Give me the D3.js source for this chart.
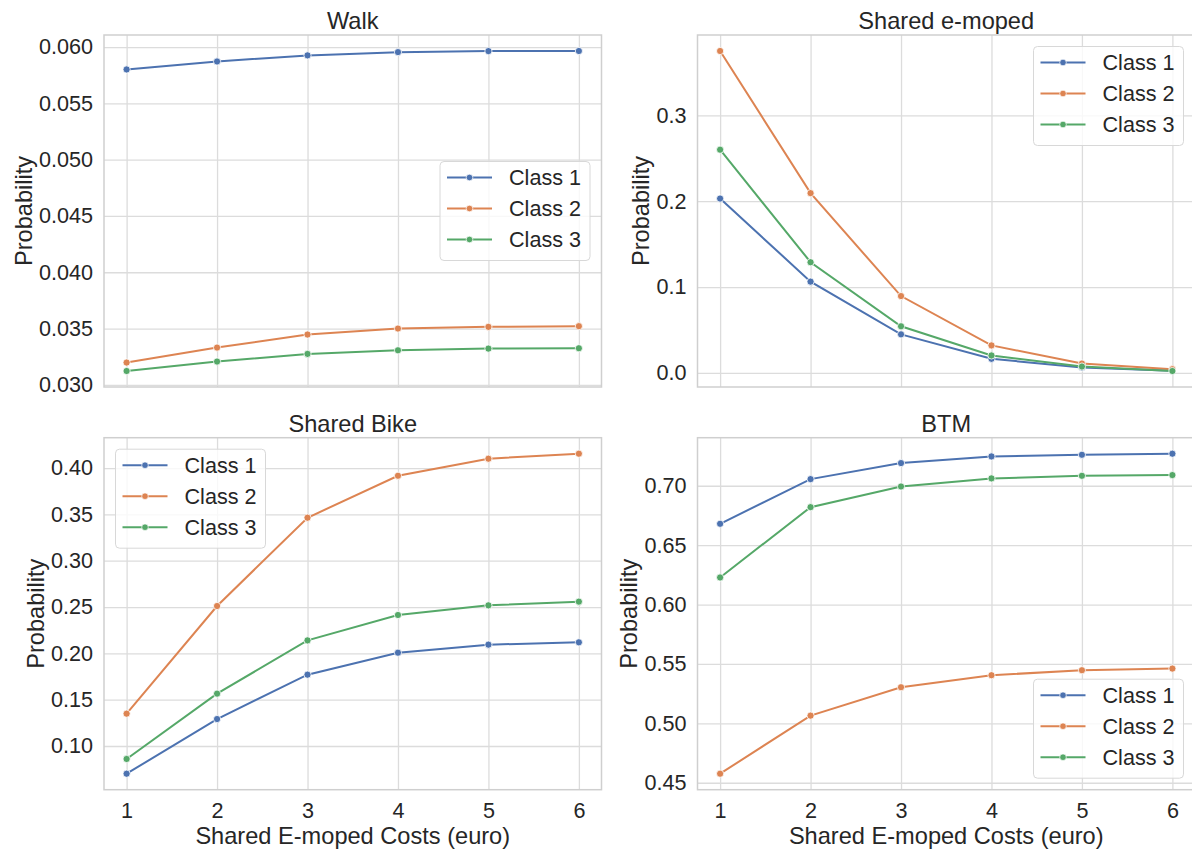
<!DOCTYPE html>
<html>
<head>
<meta charset="utf-8">
<script src="https://cdn.jsdelivr.net/npm/d3@7"></script>
<style>
  html, body { margin: 0; padding: 0; background: #ffffff; }
  svg { display: block; }
  text { font-family: "Liberation Sans", Arial, sans-serif; fill: #262626; }
</style>
</head>
<body>
<svg id="chart" width="1192" height="850"></svg>
<script>
// ---------- data ----------
const costs = [1, 2, 3, 4, 5, 6];
const classNames = ["Class 1", "Class 2", "Class 3"];
const classColors = ["#4c72b0", "#dd8452", "#55a868"];
const xTicks = [1, 2, 3, 4, 5, 6];

const walkClass1 = [0.05801, 0.05872, 0.05926, 0.05955, 0.05964, 0.05965];
const walkClass2 = [0.03198, 0.03331, 0.03447, 0.03500, 0.03515, 0.03521];
const walkClass3 = [0.03123, 0.03207, 0.03275, 0.03307, 0.03322, 0.03325];
const walkTicks = [0.030, 0.035, 0.040, 0.045, 0.050, 0.055, 0.060];

const mopedClass1 = [0.2031, 0.1063, 0.0449, 0.0164, 0.0063, 0.0024];
const mopedClass2 = [0.3750, 0.2094, 0.0895, 0.0320, 0.0109, 0.0043];
const mopedClass3 = [0.2600, 0.1289, 0.0543, 0.0203, 0.0074, 0.0022];
const mopedTicks = [0.0, 0.1, 0.2, 0.3];

const bikeClass1 = [0.0701, 0.1291, 0.1770, 0.2007, 0.2094, 0.2119];
const bikeClass2 = [0.1349, 0.2511, 0.3464, 0.3917, 0.4101, 0.4155];
const bikeClass3 = [0.0860, 0.1565, 0.2140, 0.2414, 0.2518, 0.2558];
const bikeTicks = [0.10, 0.15, 0.20, 0.25, 0.30, 0.35, 0.40];

const btmClass1 = [0.6680, 0.7056, 0.7191, 0.7247, 0.7261, 0.7270];
const btmClass2 = [0.4576, 0.5065, 0.5304, 0.5405, 0.5447, 0.5461];
const btmClass3 = [0.6228, 0.6820, 0.6994, 0.7062, 0.7084, 0.7090];
const btmTicks = [0.45, 0.50, 0.55, 0.60, 0.65, 0.70];

const panels = [
  { title: "Walk", series: [walkClass1, walkClass2, walkClass3], ticks: walkTicks, fmt: ".3f",
    col: 0, row: 0, legend: "center right" },
  { title: "Shared e-moped", series: [mopedClass1, mopedClass2, mopedClass3], ticks: mopedTicks, fmt: ".1f",
    col: 1, row: 0, legend: "upper right" },
  { title: "Shared Bike", series: [bikeClass1, bikeClass2, bikeClass3], ticks: bikeTicks, fmt: ".2f",
    col: 0, row: 1, legend: "upper left" },
  { title: "BTM", series: [btmClass1, btmClass2, btmClass3], ticks: btmTicks, fmt: ".2f",
    col: 1, row: 1, legend: "lower right" }
];
const xLabel = "Shared E-moped Costs (euro)";
const yLabel = "Probability";

// ---------- layout ----------
const colX = [104, 697.5];
const rowY = [35, 437.7];
const W = 497.5, H = 352;
const gridColor = "#dcdcdc";
const spineColor = "#cfcfcf";
const tickFont = 21.6, labelFont = 23.6;

const svg = d3.select("#chart");

panels.forEach(p => {
  const x0 = colX[p.col], y0 = rowY[p.row];
  const g = svg.append("g").attr("transform", `translate(${x0},${y0})`);

  // x scale with matplotlib 5% margins
  const xMin = d3.min(costs), xMax = d3.max(costs);
  const xPad = (xMax - xMin) * 0.05;
  const x = d3.scaleLinear().domain([xMin - xPad, xMax + xPad]).range([0, W]);

  const all = p.series.flat();
  const yMin = d3.min(all), yMax = d3.max(all);
  const yPad = (yMax - yMin) * 0.05;
  const y = d3.scaleLinear().domain([yMin - yPad, yMax + yPad]).range([H, 0]);

  // grid via axes
  const gx = g.append("g").attr("transform", `translate(0,${H})`)
    .call(d3.axisBottom(x).tickValues(xTicks).tickSize(-H).tickFormat(p.row === 1 ? d3.format("d") : () => "").tickPadding(13));
  gx.select(".domain").remove();
  gx.selectAll("line").attr("stroke", gridColor).attr("stroke-width", 1.3);
  gx.selectAll("text").attr("font-size", tickFont).attr("fill", "#262626").attr("font-family", '"Liberation Sans", Arial, sans-serif');

  const gy = g.append("g")
    .call(d3.axisLeft(y).tickValues(p.ticks).tickSize(-W).tickFormat(d3.format(p.fmt)).tickPadding(11));
  gy.select(".domain").remove();
  gy.selectAll("line").attr("stroke", gridColor).attr("stroke-width", 1.3);
  gy.selectAll("text").attr("font-size", tickFont).attr("fill", "#262626").attr("font-family", '"Liberation Sans", Arial, sans-serif');

  // spines
  g.append("rect").attr("x", 0).attr("y", 0).attr("width", W).attr("height", H)
    .attr("fill", "none").attr("stroke", spineColor).attr("stroke-width", 1.5);

  // lines + markers
  const line = d3.line().x((d, i) => x(costs[i])).y(d => y(d));
  p.series.forEach((s, k) => {
    g.append("path").datum(s).attr("d", line).attr("fill", "none")
      .attr("stroke", classColors[k]).attr("stroke-width", 2);
    g.selectAll(null).data(s).enter().append("circle")
      .attr("cx", (d, i) => x(costs[i])).attr("cy", d => y(d)).attr("r", 3.6)
      .attr("fill", classColors[k]).attr("stroke", "#ffffff").attr("stroke-width", 0.8);
  });

  // title
  g.append("text").attr("x", W / 2).attr("y", -6).attr("text-anchor", "middle")
    .attr("font-size", labelFont).text(p.title);

  // y label positioned relative to tick labels
  const tickBoxes = gy.selectAll("text").nodes().map(n => n.getBBox());
  const minTickX = d3.min(tickBoxes, b => b.x);
  const lx = minTickX - 15;
  g.append("text").attr("transform", `translate(${lx},${H / 2}) rotate(-90)`)
    .attr("text-anchor", "middle").attr("dominant-baseline", "central")
    .attr("font-size", labelFont).text(yLabel);

  if (p.row === 1) {
    g.append("text").attr("x", W / 2).attr("y", H + 54).attr("text-anchor", "middle")
      .attr("font-size", labelFont).text(xLabel);
  }

  // legend
  const lw = 150, lh = 99, pad = 11.5;
  let lxp, lyp;
  if (p.legend === "center right") { lxp = W - pad - lw; lyp = H / 2 - lh / 2; }
  else if (p.legend === "upper right") { lxp = W - pad - lw; lyp = pad; }
  else if (p.legend === "upper left") { lxp = pad; lyp = pad; }
  else { lxp = W - pad - lw; lyp = H - pad - lh; }
  const lg = g.append("g").attr("transform", `translate(${lxp},${lyp})`);
  lg.append("rect").attr("width", lw).attr("height", lh).attr("rx", 4).attr("ry", 4)
    .attr("fill", "rgba(255,255,255,0.8)").attr("stroke", "#d8d8d8").attr("stroke-width", 1);
  classNames.forEach((name, k) => {
    const cy = 16 + k * 31;
    lg.append("line").attr("x1", 7).attr("x2", 52).attr("y1", cy).attr("y2", cy)
      .attr("stroke", classColors[k]).attr("stroke-width", 2);
    lg.append("circle").attr("cx", 29.5).attr("cy", cy).attr("r", 3.3)
      .attr("fill", classColors[k]).attr("stroke", "#ffffff").attr("stroke-width", 0.7);
    lg.append("text").attr("x", 69).attr("y", cy).attr("dominant-baseline", "central")
      .attr("font-size", tickFont).text(name);
  });
});
</script>
</body>
</html>
